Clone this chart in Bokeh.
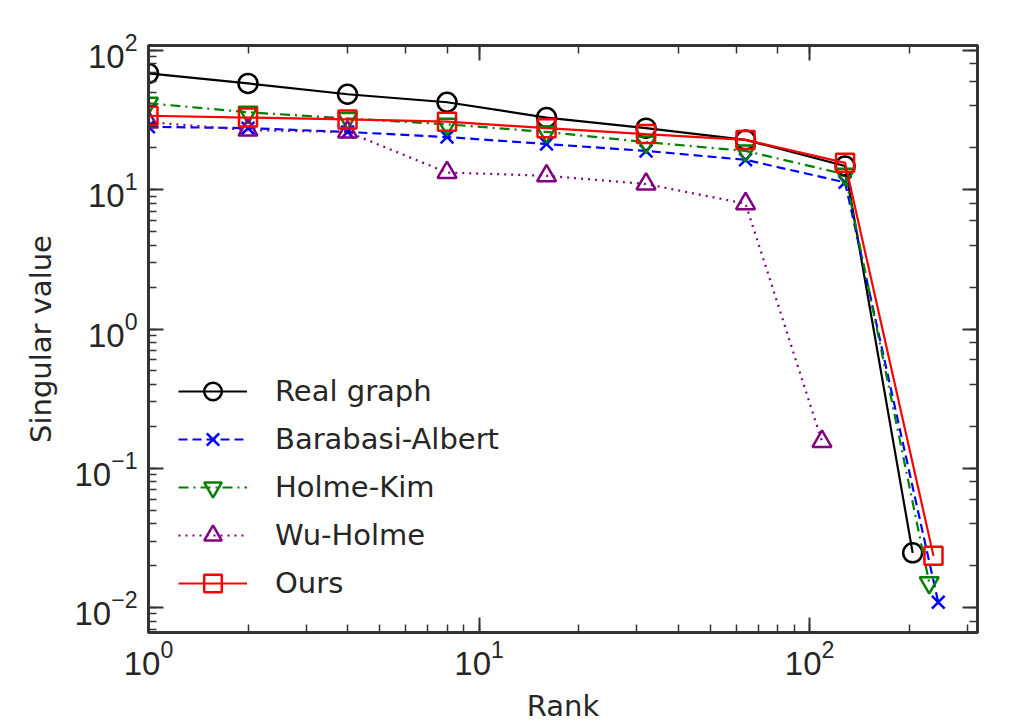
import math
from bokeh.plotting import figure
from bokeh.models import Range1d, LogAxis, LogTicker, Legend, LegendItem
from bokeh.embed import file_html
from bokeh.resources import INLINE

# ---- data ----
ranks_real = [1, 2, 4, 8, 16, 32, 64, 128, 205]
real_graph = [68.5, 58.0, 48.5, 42.5, 33.0, 27.7, 22.8, 14.8, 0.0247]

ranks_ba = [1, 2, 4, 8, 16, 32, 64, 128, 245]
barabasi_albert = [28.3, 27.7, 26.0, 23.9, 21.3, 19.0, 16.4, 11.3, 0.0109]

ranks_hk = [1, 2, 4, 8, 16, 32, 64, 128, 230]
holme_kim = [41.8, 36.0, 32.5, 29.5, 26.0, 22.0, 19.0, 12.9, 0.0151]

ranks_wh = [1, 2, 4, 8, 16, 32, 64, 109]
wu_holme = [30.6, 26.8, 26.0, 13.3, 12.6, 11.0, 7.94, 0.156]

ranks_ours = [1, 2, 4, 8, 16, 32, 64, 128, 237]
ours = [34.0, 33.0, 32.0, 30.8, 27.7, 25.1, 22.8, 15.6, 0.0235]

series_labels = ["Real graph", "Barabasi-Albert", "Holme-Kim", "Wu-Holme", "Ours"]

x_label = "Rank"
y_label = "Singular value"

# ---- figure ----
X0, X1 = 1, 322
Y0, Y1 = 0.00662, 108.6
FONT = "DejaVu Sans"
TICKFONT = "Liberation Sans"
TXT = "#262626"
AX = "#333333"

p = figure(frame_width=829, frame_height=587, x_axis_type="log", y_axis_type="log",
           x_range=Range1d(X0, X1), y_range=Range1d(Y0, Y1),
           output_backend="svg", toolbar_location=None,
           min_border_left=148, min_border_right=28,
           min_border_top=45, min_border_bottom=80)
p.grid.visible = False
p.outline_line_color = AX
p.outline_line_width = 3
p.background_fill_color = "white"
p.border_fill_color = "white"


def style_axis(ax, show_labels):
    ax.axis_line_color = AX
    ax.axis_line_width = 3
    ax.major_tick_in = 15
    ax.major_tick_out = 0
    ax.minor_tick_in = 8
    ax.minor_tick_out = 0
    ax.major_tick_line_color = AX
    ax.minor_tick_line_color = AX
    ax.major_tick_line_width = 2
    ax.minor_tick_line_width = 1.5
    if show_labels:
        ax.major_label_text_color = TXT
        ax.major_label_text_font = TICKFONT
        ax.major_label_text_font_size = "33px"
        ax.axis_label_text_color = TXT
        ax.axis_label_text_font = FONT
        ax.axis_label_text_font_size = "29px"
        ax.axis_label_text_font_style = "normal"
    else:
        ax.major_label_text_color = None
        ax.major_label_text_font_size = "6px"
        ax.major_label_standoff = 0


for ax in p.xaxis:
    style_axis(ax, True)
    ax.axis_label = x_label
    ax.major_label_standoff = 7
    ax.axis_label_standoff = 11
for ax in p.yaxis:
    style_axis(ax, True)
    ax.axis_label = y_label
    ax.major_label_standoff = 11
    ax.axis_label_standoff = 13

top_ax = LogAxis(ticker=LogTicker())
right_ax = LogAxis(ticker=LogTicker())
style_axis(top_ax, False)
style_axis(right_ax, False)
p.add_layout(top_ax, "above")
p.add_layout(right_ax, "right")

# ---- series ----
lw = 2.2
mw = 2.5
r1l = p.line(ranks_real, real_graph, line_color="black", line_width=lw)
r1m = p.scatter(ranks_real, real_graph, marker="circle", size=19, fill_color=None,
                line_color="black", line_width=mw)

r2l = p.line(ranks_ba, barabasi_albert, line_color="#0000ff", line_width=lw, line_dash="9 5")
r2m = p.scatter(ranks_ba, barabasi_albert, marker="x", size=18,
                line_color="#0000ff", line_width=mw)

r3l = p.line(ranks_hk, holme_kim, line_color="#008000", line_width=lw, line_dash="10 5 2 5")
r3m = p.scatter(ranks_hk, holme_kim, marker="inverted_triangle", size=19, fill_color=None,
                line_color="#008000", line_width=mw)

r4l = p.line(ranks_wh, wu_holme, line_color="#800080", line_width=lw, line_dash="2 5")
r4m = p.scatter(ranks_wh, wu_holme, marker="triangle", size=19, fill_color=None,
                line_color="#800080", line_width=mw)

r5l = p.line(ranks_ours, ours, line_color="#ff0000", line_width=lw)
r5m = p.scatter(ranks_ours, ours, marker="square", size=18, fill_color=None,
                line_color="#ff0000", line_width=mw)

items = [LegendItem(label=lab, renderers=[l, m]) for lab, l, m in
         zip(series_labels, [r1l, r2l, r3l, r4l, r5l], [r1m, r2m, r3m, r4m, r5m])]
legend = Legend(items=items, location=(30, 27), padding=0, margin=0,
                glyph_width=69, glyph_height=44, label_height=44, spacing=4,
                label_standoff=28, label_text_font=FONT, label_text_font_size="29px",
                label_text_color=TXT, background_fill_alpha=0, border_line_color=None)
p.add_layout(legend, "center")

open("out.html", "w").write(file_html(p, INLINE))
